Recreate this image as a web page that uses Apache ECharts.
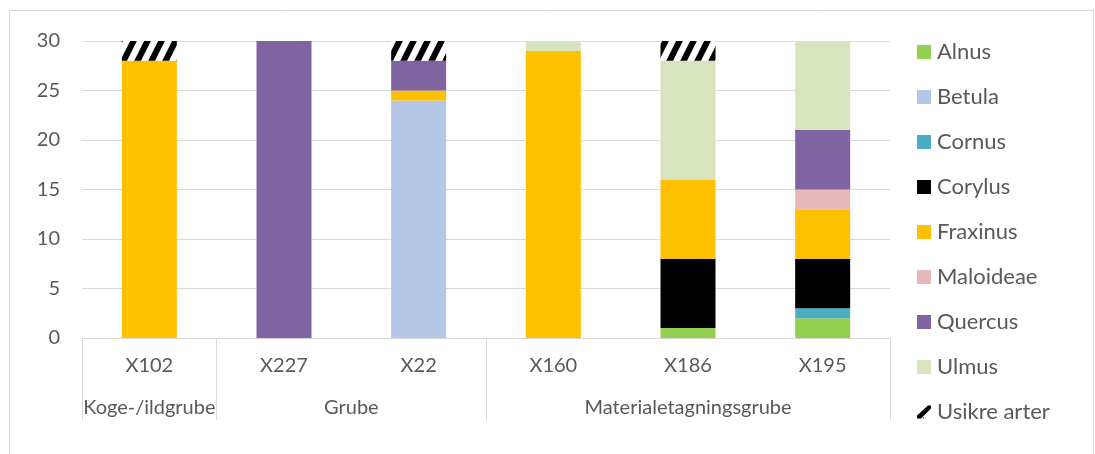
<!DOCTYPE html>
<html>
<head>
<meta charset="utf-8">
<script src="https://cdn.jsdelivr.net/npm/echarts@6/dist/echarts.min.js"></script>
<style>
  html, body { margin: 0; padding: 0; background: #fff; }
  #chart { width: 1095px; height: 454px; }
</style>
</head>
<body>
<div id="chart"></div>
<script>
// Samples (features) and the feature types they belong to
const samples = ['X102', 'X227', 'X22', 'X160', 'X186', 'X195'];
const groupNames = ['Koge-/ildgrube', 'Grube', 'Materialetagningsgrube'];
const groupSpans = [1, 2, 3];

// Charcoal counts per taxon, one value per sample
const alnus     = [0, 0, 0, 0, 1, 2];
const betula    = [0, 0, 24, 0, 0, 0];
const cornus    = [0, 0, 0, 0, 0, 1];
const corylus   = [0, 0, 0, 0, 7, 5];
const fraxinus  = [28, 0, 1, 29, 8, 5];
const maloideae = [0, 0, 0, 0, 0, 2];
const quercus   = [0, 30, 3, 0, 0, 6];
const ulmus     = [0, 0, 0, 1, 12, 9];
const usikre    = [2, 0, 2, 0, 2, 0];

const yTicks = [0, 5, 10, 15, 20, 25, 30];

const FONT = 'Lato';
const TEXT = '#595959';
const LINE = '#d9d9d9';

// Diagonal black/white hatch used for uncertain identifications
function hatchPattern() {
  const w = 14, h = 28;
  const c = document.createElement('canvas');
  c.width = w; c.height = h;
  const g = c.getContext('2d');
  g.fillStyle = '#fff';
  g.fillRect(0, 0, w, h);
  g.strokeStyle = '#000';
  g.lineWidth = 6;
  for (const dx of [-w, 0, w]) {
    g.beginPath();
    g.moveTo(dx - w * 0.1, h * 1.1);
    g.lineTo(dx + w * 1.1, -h * 0.1);
    g.stroke();
  }
  return c;
}

// Group boundaries and centres in category-index units
const groupEdges = [-0.5];
const groupCenters = [];
let start = 0;
groupSpans.forEach(s => {
  groupCenters.push(start + (s - 1) / 2);
  start += s;
  groupEdges.push(start - 0.5);
});

const taxa = [
  ['Alnus', alnus, '#92D050'],
  ['Betula', betula, '#B4C7E7'],
  ['Cornus', cornus, '#4BACC6'],
  ['Corylus', corylus, '#000000'],
  ['Fraxinus', fraxinus, '#FFC000'],
  ['Maloideae', maloideae, '#E6B9B8'],
  ['Quercus', quercus, '#8064A2'],
  ['Ulmus', ulmus, '#D7E4BD'],
  ['Usikre arter', usikre, { image: hatchPattern(), repeat: 'repeat' }]
];

const series = taxa.map(([name, data, color]) => ({
  name,
  type: 'bar',
  stack: 'total',
  xAxisIndex: 0,
  yAxisIndex: 0,
  barWidth: 55,
  data,
  itemStyle: { color },
  emphasis: { disabled: true }
}));

const legendData = taxa.map(([name]) => {
  if (name === 'Usikre arter') {
    return {
      name,
      icon: 'path://M0,14 L4,14 L14,4 L14,1 L11,1 L0,11 Z M6,13 L7,13 L7,14 L6,14 Z',
      itemStyle: { color: '#000' }
    };
  }
  return { name, icon: 'rect' };
});

const gridBox = { left: 82, right: 205, top: 41, bottom: 116 };

const chart = echarts.init(document.getElementById('chart'), null, { renderer: 'canvas' });
chart.setOption({
  animation: false,
  backgroundColor: '#fff',
  textStyle: { fontFamily: FONT },
  grid: [
    Object.assign({}, gridBox),
    Object.assign({}, gridBox)
  ],
  legend: {
    orient: 'vertical',
    left: 912,
    top: 36,
    itemWidth: 14,
    itemHeight: 14,
    itemGap: 23,
    selectedMode: false,
    data: legendData,
    textStyle: { color: TEXT, fontSize: 22, fontFamily: FONT, lineHeight: 22, padding: [0, 0, 0, 1] }
  },
  xAxis: [
    {
      type: 'category',
      gridIndex: 0,
      data: samples,
      axisLine: { lineStyle: { color: LINE, width: 1 } },
      axisTick: { show: false },
      axisLabel: { color: TEXT, fontSize: 20, fontFamily: FONT, margin: 18 }
    },
    {
      // second level of the axis: feature types with separators
      type: 'value',
      gridIndex: 1,
      position: 'bottom',
      min: -0.5,
      max: 5.5,
      axisLine: { show: false },
      splitLine: { show: false },
      axisTick: {
        show: true,
        length: 82,
        customValues: groupEdges,
        lineStyle: { color: LINE, width: 1 }
      },
      axisLabel: {
        customValues: groupCenters,
        color: TEXT,
        fontSize: 20,
        fontFamily: FONT,
        margin: 60,
        formatter: v => {
          const i = groupCenters.findIndex(c => Math.abs(c - v) < 1e-6);
          return i >= 0 ? groupNames[i] : '';
        }
      }
    }
  ],
  yAxis: [
    {
      type: 'value',
      gridIndex: 0,
      min: yTicks[0],
      max: yTicks[yTicks.length - 1],
      interval: 5,
      axisLine: { show: false },
      axisTick: { show: false },
      splitLine: { lineStyle: { color: LINE, width: 1 } },
      axisLabel: { color: TEXT, fontSize: 20, fontFamily: FONT, margin: 22 }
    },
    {
      type: 'value',
      gridIndex: 1,
      show: false,
      min: 0,
      max: 30
    }
  ],
  graphic: [
    {
      type: 'rect',
      shape: { x: 9.5, y: 10.5, width: 1084, height: 460 },
      style: { fill: 'none', stroke: LINE, lineWidth: 1 },
      silent: true,
      z: -1
    }
  ],
  series
});
</script>
</body>
</html>
